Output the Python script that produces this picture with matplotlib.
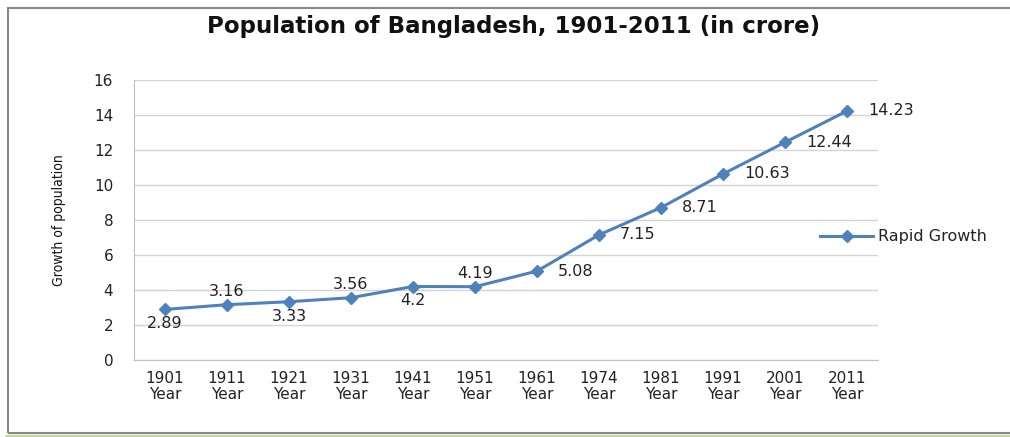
import matplotlib.pyplot as plt
from matplotlib.patches import Rectangle
from matplotlib.lines import Line2D

years = ['1901', '1911', '1921', '1931', '1941', '1951', '1961', '1974', '1981', '1991', '2001', '2011']
population = [2.89, 3.16, 3.33, 3.56, 4.2, 4.19, 5.08, 7.15, 8.71, 10.63, 12.44, 14.23]
label_pos = ['below', 'above', 'below', 'above', 'below', 'above',
             'right', 'right', 'right', 'right', 'right', 'right']
yticks = [0, 2, 4, 6, 8, 10, 12, 14, 16]

blue = '#4F81BD'
W, H = 1010, 437

fig = plt.figure(figsize=(W / 100, H / 100), dpi=100)

# outer chart frame and green bottom strip
fig.add_artist(Rectangle((8 / W, 1 - 433 / H), 1.2, 425 / H, transform=fig.transFigure,
                         fill=False, edgecolor='#888888', linewidth=1.5))
fig.add_artist(Line2D([7 / W, 1], [1 - 435.5 / H] * 2, transform=fig.transFigure,
                      color='#C3D69B', linewidth=2.5))

ax = fig.add_axes([134 / W, 1 - 360 / H, (878 - 134) / W, (360 - 80) / H])
x = list(range(len(years)))
line, = ax.plot(x, population, color=blue, linewidth=2.2, marker='D', markersize=6,
                markeredgecolor=blue, label='Rapid Growth', zorder=3)

for xi, v, p in zip(x, population, label_pos):
    if p == 'below':
        off, ha, va = (0, -5), 'center', 'top'
    elif p == 'above':
        off, ha, va = (0, 4), 'center', 'bottom'
    else:
        off, ha, va = (15, 0), 'left', 'center'
    ax.annotate('{:g}'.format(v), (xi, v), xytext=off, textcoords='offset points',
                ha=ha, va=va, fontsize=11.5, color='#222222', family='DejaVu Sans')

ax.set_xlim(-0.5, len(years) - 0.5)
ax.set_ylim(0, 16)
ax.set_yticks(yticks)
ax.set_xticks(x)
ax.set_xticklabels(['{}\nYear'.format(y) for y in years], linespacing=1.05)
ax.tick_params(length=0, labelsize=11, colors='#222222', pad=8)
ax.tick_params(axis='y', pad=15)
ax.grid(axis='y', color='#D4D4D4', linewidth=1)
ax.set_axisbelow(True)
for s in ['top', 'right']:
    ax.spines[s].set_visible(False)
for s in ['left', 'bottom']:
    ax.spines[s].set_color('#BFBFBF')

ax.set_ylabel('Growth of population', family='DejaVu Sans', fontstretch='condensed',
              fontsize=10, labelpad=20, color='#111111')

fig.text(514 / W, 1 - 27 / H, 'Population of Bangladesh, 1901-2011 (in crore)',
         ha='center', va='center', fontsize=16.5, fontweight='bold', family='DejaVu Sans',
         color='#111111')

fig.legend(handles=[line], loc='center left', bbox_to_anchor=(806 / W, 1 - 237 / H),
           frameon=False, handlelength=3.3, handletextpad=0.3, labelcolor='#222222',
           prop={'family': 'DejaVu Sans', 'size': 11.5})

fig.savefig('out.png', dpi=100)
